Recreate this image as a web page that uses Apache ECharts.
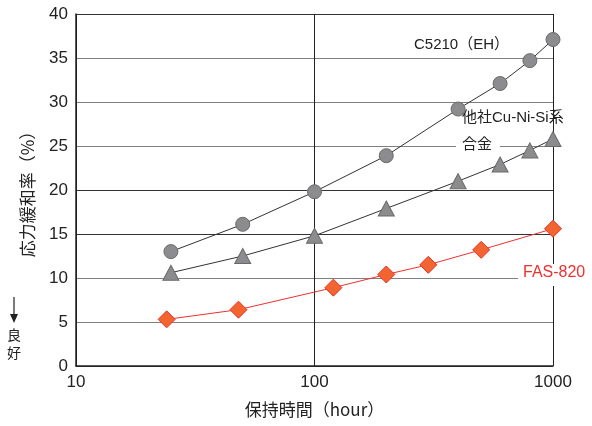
<!DOCTYPE html>
<html>
<head>
<meta charset="utf-8">
<script src="https://cdn.jsdelivr.net/npm/echarts@6/dist/echarts.min.js"></script>
<style>
html,body{margin:0;padding:0;background:#fff;}
#chart{width:592px;height:426px;}
</style>
</head>
<body>
<div id="chart"></div>
<script>
// Data (hours, stress relaxation %)
const c5210Hours = [25, 50, 100, 200, 400, 600, 800, 1000];
const c5210Values = [13.0, 16.1, 19.8, 23.9, 29.2, 32.1, 34.7, 37.1];
const cuNiSiHours = [25, 50, 100, 200, 400, 600, 800, 1000];
const cuNiSiValues = [10.6, 12.5, 14.8, 17.9, 21.0, 22.9, 24.5, 25.8];
const fasHours = [24, 48, 120, 200, 300, 500, 1000];
const fasValues = [5.3, 6.4, 8.9, 10.4, 11.5, 13.2, 15.6];
const yTicks = [0, 5, 10, 15, 20, 25, 30, 35, 40];
const xTicks = [10, 100, 1000];

const FONT = '"Liberation Sans", "Noto Sans CJK JP", sans-serif';
const JFONT = '"Noto Sans CJK JP", "Liberation Sans", sans-serif';

const zip = (a, b) => a.map((v, i) => [v, b[i]]);

const chart = echarts.init(document.getElementById('chart'), null, {renderer: 'canvas'});
chart.setOption({
  animation: false,
  backgroundColor: '#fff',
  grid: {left: 76, right: 39, top: 14, bottom: 60, containLabel: false},
  xAxis: {
    type: 'log', logBase: 10, min: xTicks[0], max: xTicks[xTicks.length - 1],
    name: '保持時間（hour）', nameLocation: 'middle', nameGap: 35,
    nameTextStyle: {fontSize: 17, color: '#222', fontFamily: JFONT},
    axisLine: {show: true, lineStyle: {color: '#222', width: 1.5}},
    axisTick: {show: false},
    axisLabel: {fontSize: 17, color: '#222', fontFamily: FONT, margin: 8,
      formatter: v => String(Math.round(v))},
    splitLine: {show: true, lineStyle: {color: '#222', width: 1}}
  },
  yAxis: {
    type: 'value', min: yTicks[0], max: yTicks[yTicks.length - 1], interval: 5,
    name: '応力緩和率（%）', nameLocation: 'middle', nameGap: 40,
    nameTextStyle: {fontSize: 17, color: '#222', fontFamily: JFONT},
    axisLine: {show: true, lineStyle: {color: '#222', width: 1.5}},
    axisTick: {show: false},
    axisLabel: {fontSize: 17, color: '#222', fontFamily: FONT, margin: 8},
    splitLine: {show: true, lineStyle: {color: ['#333', '#808080', '#808080', '#333', '#333', '#808080', '#808080', '#808080', '#333'], width: 1.2}}
  },
  series: [
    {
      name: 'C5210（EH）', type: 'line', data: zip(c5210Hours, c5210Values),
      symbol: 'circle', symbolSize: 14,
      lineStyle: {color: '#333', width: 1},
      itemStyle: {color: '#8c8c8e', borderColor: '#6a6a6a', borderWidth: 1}
    },
    {
      name: '他社Cu-Ni-Si系合金', type: 'line', data: zip(cuNiSiHours, cuNiSiValues),
      symbol: 'triangle', symbolSize: [16, 15],
      lineStyle: {color: '#333', width: 1},
      itemStyle: {color: '#8c8c8e', borderColor: '#6a6a6a', borderWidth: 1}
    },
    {
      name: 'FAS-820', type: 'line', data: zip(fasHours, fasValues),
      symbol: 'diamond', symbolSize: [17, 17],
      lineStyle: {color: '#ee3030', width: 1},
      itemStyle: {color: '#f26430', borderColor: '#e8302a', borderWidth: 1}
    }
  ],
  graphic: [
    {type: 'text', left: 414, top: 37, style: {text: 'C5210（EH）', font: '15px ' + FONT, fill: '#222'}, z: 10},
    {type: 'text', left: 462, top: 110, style: {text: '他社Cu-Ni-Si系', font: '15px ' + FONT, fill: '#222'}, z: 10},
    {type: 'rect', shape: {x: 456, y: 138, width: 44, height: 16}, style: {fill: '#fff'}, z: 9},
    {type: 'text', left: 462, top: 136, style: {text: '合金', font: '15px ' + JFONT, fill: '#222'}, z: 10},
    {type: 'rect', shape: {x: 518, y: 264, width: 74, height: 22}, style: {fill: '#fff'}, z: 9},
    {type: 'text', left: 523, top: 265, style: {text: 'FAS-820', font: '16px ' + FONT, fill: '#ee3030'}, z: 10},
    {type: 'line', shape: {x1: 14, y1: 297, x2: 14, y2: 316}, style: {stroke: '#222', lineWidth: 1.2}, z: 10},
    {type: 'polygon', shape: {points: [[10, 314], [18, 314], [14, 323]]}, style: {fill: '#222'}, z: 10},
    {type: 'text', left: 7, top: 326, style: {text: '良\n好', font: '14px ' + JFONT, fill: '#222', lineHeight: 18}, z: 10}
  ]
});
</script>
</body>
</html>
